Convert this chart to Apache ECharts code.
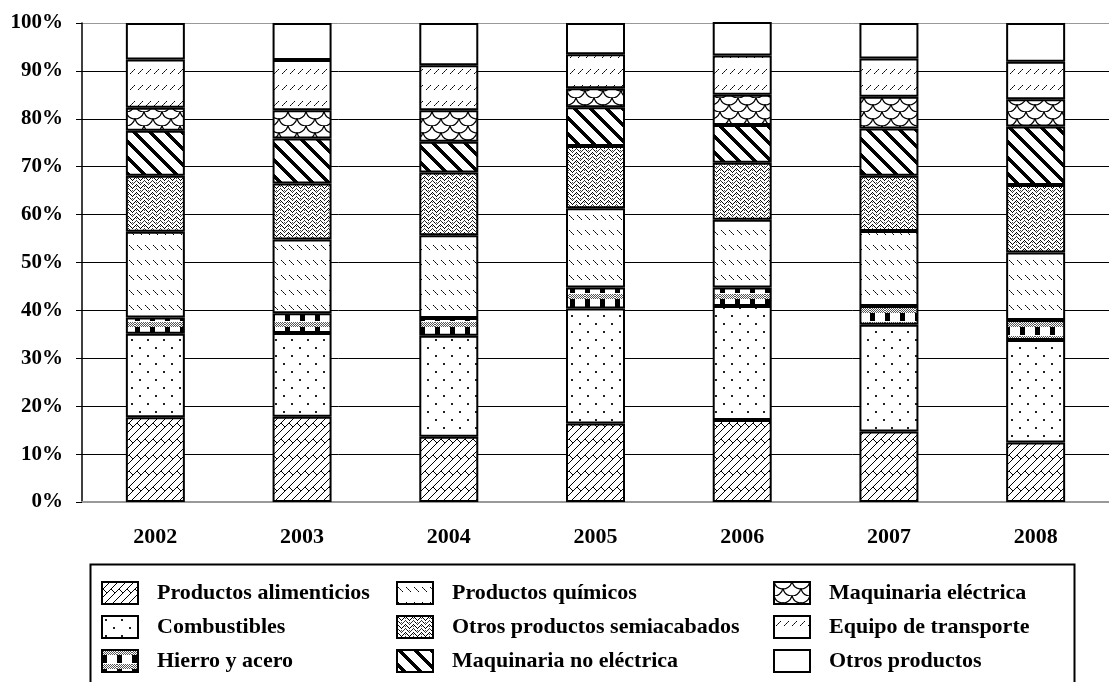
<!DOCTYPE html>
<html>
<head>
<meta charset="utf-8">
<script src="https://cdn.jsdelivr.net/npm/echarts@6/dist/echarts.min.js"></script>
<style>
  html, body { margin: 0; padding: 0; background: #fff; }
  #main { width: 1109px; height: 682px; }
</style>
</head>
<body>
<div id="main"></div>
<script>
const years = ['2002', '2003', '2004', '2005', '2006', '2007', '2008']

// shares in %, bottom segment first
const alimenticios = [17.7, 17.8, 13.6, 16.4, 17.1, 14.7, 12.4]
const combustibles = [17.4, 17.5, 21.1, 24.0, 23.8, 22.3, 21.4]
const hierro = [3.4, 4.1, 3.7, 4.4, 3.9, 3.9, 4.2]
const quimicos = [17.9, 15.4, 17.3, 16.5, 14.1, 15.7, 14.1]
const semiacabados = [11.7, 11.7, 13.1, 13.0, 11.9, 11.5, 14.1]
const maqNoElectrica = [9.4, 9.4, 6.4, 8.1, 7.9, 9.9, 12.2]
const maqElectrica = [4.8, 5.9, 6.6, 4.0, 6.3, 6.6, 5.7]
const transporte = [10.1, 10.5, 9.4, 7.1, 8.2, 8.0, 7.8]
const otros = [7.6, 7.7, 8.8, 6.5, 7.0, 7.4, 8.1]

const yTicks = [0, 10, 20, 30, 40, 50, 60, 70, 80, 90, 100]

// pattern tiles drawn pixel by pixel
function tile(w, h, draw) {
  const c = document.createElement('canvas')
  c.width = w
  c.height = h
  const ctx = c.getContext('2d')
  ctx.fillStyle = '#fff'
  ctx.fillRect(0, 0, w, h)
  const px = (x, y, col) => {
    ctx.fillStyle = col || '#000'
    ctx.fillRect(((x % w) + w) % w, ((y % h) + h) % h, 1, 1)
  }
  draw(ctx, px, w, h)
  return { image: c, repeat: 'repeat' }
}

const patterns = {
  // diagonal brick
  alim: tile(16, 16, (ctx, px) => {
    for (let i = 0; i < 16; i++) {
      px(i, 7 - i)
      px(i, 15 - i)
    }
    for (let k = 0; k < 4; k++) {
      px(1 + k, 7 + k)
      px(9 + k, 7 + k)
    }
  }),
  // sparse dots
  comb: tile(16, 16, (ctx) => {
    ctx.fillStyle = '#222'
    ctx.fillRect(3, 3, 2, 2)
    ctx.fillRect(11, 11, 2, 2)
  }),
  // gray band + black blocks
  hierro: tile(15, 14, (ctx, px) => {
    for (let y = 0; y < 5; y++)
      for (let x = 0; x < 15; x++)
        if ((x + y) % 2 === 0) px(x, y, '#555')
    ctx.fillStyle = '#000'
    ctx.fillRect(0, 5, 5, 8)
  }),
  // dashed downward diagonals
  quim: tile(8, 15, (ctx, px) => {
    for (let k = 0; k < 5; k++) px(1 + k, 5 + k, k % 2 ? '#444' : '#000')
  }),
  // weave
  semi: tile(8, 8, (ctx, px) => {
    for (let x = 0; x < 8; x++) {
      const t = x < 4 ? x : 8 - x
      px(x, t)
      px(x, t + 4, '#333')
    }
    px(2, 6)
    px(6, 2)
    px(0, 2, '#555')
    px(4, 6, '#555')
  }),
  // wide downward diagonal
  maqNo: tile(16, 16, (ctx, px) => {
    for (let y = 0; y < 16; y++)
      for (let x = 0; x < 16; x++)
        if ((((x - y) % 16) + 16) % 16 < 5) px(x, y)
  }),
  // fish scales
  maqEl: tile(18, 14, (ctx) => {
    ctx.strokeStyle = '#000'
    ctx.lineWidth = 1.2
    const scale = (cx, cy) => {
      ctx.beginPath()
      ctx.arc(cx, cy, 9, 0.05 * Math.PI, 0.95 * Math.PI)
      ctx.stroke()
    }
    scale(9, -2)
    scale(0, 5)
    scale(18, 5)
    scale(9, 12)
  }),
  // dashed upward diagonals
  transp: tile(8, 16, (ctx, px) => {
    for (let k = 0; k < 5; k++) px(6 - k, 5 + k, k % 2 ? '#444' : '#000')
  }),
  otros: '#fff'
}

const seriesDefs = [
  ['Productos alimenticios', alimenticios, patterns.alim],
  ['Combustibles', combustibles, patterns.comb],
  ['Hierro y acero', hierro, patterns.hierro],
  ['Productos químicos', quimicos, patterns.quim],
  ['Otros productos semiacabados', semiacabados, patterns.semi],
  ['Maquinaria no eléctrica', maqNoElectrica, patterns.maqNo],
  ['Maquinaria eléctrica', maqElectrica, patterns.maqEl],
  ['Equipo de transporte', transporte, patterns.transp],
  ['Otros productos', otros, patterns.otros]
]

const font = "'Liberation Serif', 'Times New Roman', serif"

const legendBase = {
  orient: 'vertical',
  top: 581,
  padding: 0,
  height: 100,
  itemWidth: 36,
  itemHeight: 22,
  itemGap: 10,
  icon: 'rect',
  textStyle: {
    fontFamily: font, fontWeight: 'bold', fontSize: 22, lineHeight: 22,
    color: '#000', padding: [0, 0, 0, 14]
  }
}

const myChart = echarts.init(document.getElementById('main'))
const option = {
  animation: false,
  backgroundColor: '#fff',
  grid: { left: 82, top: 23, bottom: 180, right: -14, containLabel: false },
  xAxis: {
    type: 'category',
    data: years,
    axisLine: { lineStyle: { color: '#999', width: 2 } },
    axisTick: { show: false },
    axisLabel: { fontFamily: font, fontWeight: 'bold', fontSize: 22, color: '#000', margin: 24 }
  },
  yAxis: {
    type: 'value',
    min: yTicks[0],
    max: yTicks[yTicks.length - 1],
    interval: 10,
    axisLine: { show: true, lineStyle: { color: '#000', width: 1.5 } },
    axisTick: { show: true, length: 6, lineStyle: { color: '#000' } },
    axisLabel: { fontFamily: font, fontWeight: 'bold', fontSize: 21, color: '#000', margin: 19, formatter: '{value}%' },
    splitLine: {
      lineStyle: {
        color: ['#999', '#000', '#000', '#000', '#000', '#000', '#000', '#000', '#000', '#000', '#999'],
        width: 1
      }
    }
  },
  legend: [
    Object.assign({}, legendBase, { left: 101, data: seriesDefs.slice(0, 3).map(d => d[0]) }),
    Object.assign({}, legendBase, { left: 396, data: seriesDefs.slice(3, 6).map(d => d[0]) }),
    Object.assign({}, legendBase, { left: 773, data: seriesDefs.slice(6, 9).map(d => d[0]) })
  ],
  graphic: [{
    type: 'rect',
    left: 88,
    top: 562,
    shape: { width: 984, height: 140 },
    style: { fill: 'none', stroke: '#000', lineWidth: 2 },
    silent: true
  }],
  series: seriesDefs.map(([name, values, fill]) => ({
    name,
    type: 'bar',
    stack: 'total',
    barWidth: 59,
    data: values,
    itemStyle: { color: fill, borderColor: '#000', borderWidth: 2 }
  }))
}
myChart.setOption(option)
</script>
</body>
</html>
